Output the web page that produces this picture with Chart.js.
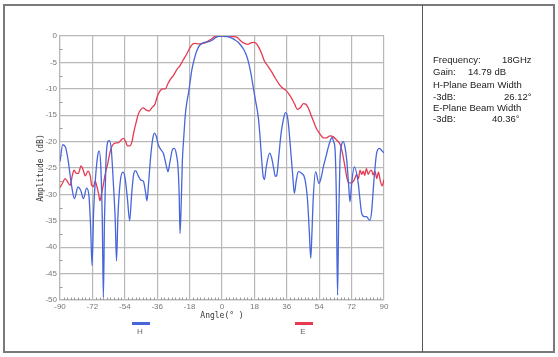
<!DOCTYPE html>
<html><head><meta charset="utf-8">
<script src="https://cdn.jsdelivr.net/npm/chart.js@4.4.0/dist/chart.umd.min.js"></script>
<style>
html,body{margin:0;padding:0;background:#fff;}
#wrap{position:relative;width:558px;height:357px;overflow:hidden;background:#fff;}
#c{position:absolute;left:0;top:0;}
#frame{position:absolute;left:3px;top:4px;width:548px;height:345px;border:2px solid #7a7a7a;}
#divider{position:absolute;left:422px;top:5px;width:1px;height:347px;background:#555;}
.t{position:absolute;font-family:Arial,"Liberation Sans",sans-serif;font-size:9.5px;line-height:12px;color:#222;white-space:nowrap;}
</style></head>
<body>
<div id="wrap">
<canvas id="c" width="558" height="357"></canvas>
<div id="frame"></div>
<div id="divider"></div>
<div class="t" style="left:433px;top:54px">Frequency:</div>
<div class="t" style="left:502px;top:54px">18GHz</div>
<div class="t" style="left:433px;top:66px">Gain:</div>
<div class="t" style="left:468px;top:66px">14.79 dB</div>
<div class="t" style="left:433px;top:79px">H-Plane Beam Width</div>
<div class="t" style="left:433px;top:91px">-3dB:</div>
<div class="t" style="left:504px;top:91px">26.12°</div>
<div class="t" style="left:433px;top:102px">E-Plane Beam Width</div>
<div class="t" style="left:433px;top:113px">-3dB:</div>
<div class="t" style="left:492px;top:113px">40.36°</div>
</div>
<script>
// ---- data ----
const hAngles = [-90,-88.5,-87,-85.5,-83.5,-82,-80,-78.5,-77,-75.2,-74,-73,-72.2,-71.3,-70.3,-69,-68.2,-67.3,-66.5,-65.9,-65.3,-64.5,-63.4,-62.6,-61.5,-60.5,-59.3,-58.6,-57.8,-56.5,-55,-53.8,-52.5,-51.3,-50.2,-49,-48,-46.5,-45,-43.7,-42.5,-41.7,-40.8,-39.8,-38.5,-37.5,-36.5,-35.5,-34,-32.5,-31,-30,-29,-27.5,-26.5,-25.3,-24.4,-23.8,-23.3,-22.6,-22,-21.3,-20.4,-19.5,-18.7,-17.8,-16.8,-15.5,-14,-12.5,-10.5,-8,-6,-4,-2.5,0,2,4,5.5,7.5,9,10.5,12,13.5,14.6,16,17.4,18.5,20.2,21,22,22.9,23.6,24.5,26.5,27.5,28.7,29.6,30.4,31.5,32.8,34,35.2,36.2,37,38,39.2,40.2,41.2,42.4,44.2,46,47.5,48.5,49.3,50,50.7,52,53.9,55.3,56.3,58,59.1,60.5,61.2,62,62.8,63.5,64.2,64.8,65.5,66.5,67.4,68.3,69.3,70.3,71.1,72,73.5,75.7,76.5,77.6,79,80.4,81.2,82.2,83.2,84,85,85.9,87.5,89,90];
const hValues = [-23.8,-20.6,-21,-23.5,-28.5,-30.8,-28.6,-29.2,-30.8,-28.8,-30,-36,-43.5,-33,-27,-22.5,-21.8,-25,-35,-49.5,-35,-24,-20,-19.8,-21.5,-27,-35,-42.6,-34,-27.5,-25.8,-27,-31,-35,-30,-26,-25.5,-26.5,-27.3,-27.5,-29.5,-31.2,-28,-23.5,-19.5,-18.4,-19,-20.5,-21.5,-22.3,-24.5,-25.7,-24,-21.5,-21.3,-22.5,-25,-30,-37.4,-31,-23.5,-19.5,-15,-12.5,-11,-8.9,-6.5,-4.5,-2.8,-1.8,-1.3,-1.1,-0.9,-0.4,-0.1,0,-0.1,-0.2,-0.4,-0.8,-1.2,-1.8,-2.5,-3.6,-4.8,-7,-9.8,-12,-15.5,-18.5,-23.3,-26.7,-27.2,-25,-22.2,-23,-25,-26.6,-26.4,-23,-18.5,-16,-14.5,-15,-17,-21,-26,-29.8,-27.5,-25.7,-26,-27,-31,-37,-42.1,-37,-30.7,-25.7,-27.9,-26.5,-24.8,-22.5,-21,-19.5,-19.2,-20,-21.5,-30,-49.1,-35,-24,-20.5,-20,-21,-23.5,-28,-31.4,-28,-24.8,-27.9,-30.5,-33.6,-34.2,-34.2,-34.6,-34.9,-33,-29.2,-25,-22.2,-21.3,-21.8,-22.1];
const eAngles = [-90,-88.5,-87.2,-86,-84.4,-83.2,-82.2,-81,-79.8,-78.3,-77,-76,-74.5,-73.2,-72.4,-71.3,-70.5,-69.5,-68.5,-67.8,-67,-66,-64.8,-63.5,-62.2,-61,-59.5,-57.5,-56.3,-54.8,-53.5,-52.5,-51.2,-50,-49,-47.8,-46.5,-45,-43.7,-42.3,-40.5,-39,-37.2,-36,-34.4,-33,-31.5,-30,-28.5,-27,-25.2,-23.3,-21.5,-19.6,-17.8,-16.5,-15,-13,-11,-9.5,-8,-6,-4,-2,0,2,4,6,8.2,9.5,11,12.5,14.5,16,17.5,19,20.5,22,23.5,25.5,27.6,29.5,31.5,33.5,35.5,37,38.7,40.5,41.8,43.5,45.2,46.5,48,49.5,51,52.6,54.5,56.3,58,60,61.9,63.7,65.6,66.8,68.3,69.5,70.5,72,73,74,74.8,75.8,76.7,77.6,78.5,79.3,80.2,81.2,82,83,84,85,86,86.9,88,89,90];
const eValues = [-28.7,-27.8,-27,-27.5,-28.3,-26.5,-25.4,-26,-26,-24.6,-25.5,-26.5,-25.6,-26.5,-28.3,-28.5,-27.5,-28.5,-30,-31.2,-30,-28.3,-26,-24.2,-22,-20.8,-20.3,-20.2,-19.8,-19.4,-20,-20.8,-20.8,-20,-18.2,-16.5,-14.8,-13.9,-13.6,-14,-14.2,-13.6,-12.9,-11.5,-10.4,-10,-10,-9,-8.1,-7.5,-6.4,-5.6,-4.5,-3.4,-2.2,-1.6,-1.4,-1.5,-1.4,-1.3,-1,-0.6,-0.1,0,0,0,0,-0.1,-0.2,-0.6,-1.1,-1.4,-1.6,-1.3,-1.2,-1.4,-2.2,-3.3,-4.7,-5.7,-6.8,-7.9,-9,-9.8,-10.3,-10.9,-11.8,-13,-13.9,-13.6,-12.8,-12.9,-13.7,-15,-16.3,-17.6,-18.6,-19.3,-19.3,-18.9,-19.1,-19.7,-20.5,-22,-24.7,-27,-27.8,-27.8,-27.5,-26.8,-26.2,-27,-25.4,-26.2,-25.6,-26.4,-25.1,-26.2,-25.7,-25.4,-26.3,-25.6,-27,-25.8,-27.5,-28.4,-27.2];
const xTickValues = [-90,-72,-54,-36,-18,0,18,36,54,72,90];
const yTickValues = [0,-5,-10,-15,-20,-25,-30,-35,-40,-45,-50];
const seriesNames = ['H','E'];
const seriesColors = ['#4766d9','#e53a52'];

const toPts = (xs, ys) => xs.map((x, i) => ({x: x, y: ys[i]}));

const extras = {
  id: 'extras',
  afterDraw(chart) {
    const ctx = chart.ctx, ca = chart.chartArea;
    const xs = chart.scales.x, ys = chart.scales.y;
    ctx.save();
    ctx.strokeStyle = '#9a9a9a';
    ctx.lineWidth = 1;
    // y minor ticks
    for (let v = -2.5; v > -50; v -= 5) {
      const y = Math.round(ys.getPixelForValue(v)) + 0.5;
      ctx.beginPath(); ctx.moveTo(ca.left, y); ctx.lineTo(ca.left + 2.5, y); ctx.stroke();
    }
    // x minor ticks
    for (let a = -88; a < 90; a += 2) {
      if (xTickValues.includes(a)) continue;
      const x = Math.round(xs.getPixelForValue(a)) + 0.5;
      ctx.beginPath(); ctx.moveTo(x, ca.bottom - 2.5); ctx.lineTo(x, ca.bottom); ctx.stroke();
    }
    // legend
    const legendX = [141, 304];
    ctx.font = '8px Arial, "Liberation Sans", sans-serif';
    ctx.textAlign = 'center';
    ctx.textBaseline = 'middle';
    chart.data.datasets.forEach((ds, i) => {
      const cx = legendX[i];
      ctx.strokeStyle = ds.borderColor;
      ctx.lineWidth = 3;
      ctx.beginPath(); ctx.moveTo(cx - 9, 323.5); ctx.lineTo(cx + 9, 323.5); ctx.stroke();
      ctx.fillStyle = '#666';
      ctx.fillText(ds.label, cx - 1, 332);
    });
    ctx.restore();
  }
};

new Chart(document.getElementById('c'), {
  type: 'line',
  data: {
    datasets: [
      {label: seriesNames[0], data: toPts(hAngles, hValues), borderColor: seriesColors[0], borderWidth: 1.3, pointRadius: 0, cubicInterpolationMode: 'monotone', fill: false},
      {label: seriesNames[1], data: toPts(eAngles, eValues), borderColor: seriesColors[1], borderWidth: 1.3, pointRadius: 0, cubicInterpolationMode: 'monotone', fill: false}
    ]
  },
  options: {
    responsive: false,
    animation: false,
    devicePixelRatio: 1,
    layout: {padding: {left: 0, top: 36, right: 174, bottom: 0}},
    plugins: {legend: {display: false}, tooltip: {enabled: false}},
    scales: {
      x: {
        type: 'linear', min: -90, max: 90,
        afterFit: s => { s.height = 57; },
        afterBuildTicks: s => { s.ticks = xTickValues.map(v => ({value: v})); },
        ticks: {padding: 2, color: '#777', font: {size: 8, family: 'Arial, "Liberation Sans", sans-serif'}, maxRotation: 0, autoSkip: false},
        grid: {color: '#b8b8b8', lineWidth: 1.2, drawTicks: false},
        border: {color: '#b8b8b8', width: 1.2},
        title: {display: true, text: 'Angle(° )', color: '#333', font: {size: 8, family: '"DejaVu Sans Mono", monospace'}, padding: {top: 0, bottom: 36}}
      },
      y: {
        type: 'linear', min: -50, max: 0,
        afterFit: s => { s.width = 60; },
        afterBuildTicks: s => { s.ticks = yTickValues.slice().reverse().map(v => ({value: v})); },
        ticks: {padding: 3, color: '#777', font: {size: 8, family: 'Arial, "Liberation Sans", sans-serif'}, autoSkip: false},
        grid: {color: '#b8b8b8', lineWidth: 1.2, drawTicks: false},
        border: {color: '#b8b8b8', width: 1.2},
        title: {display: true, text: 'Amplitude (dB)', color: '#333', font: {size: 8, family: '"DejaVu Sans Mono", monospace'}, padding: {top: 36, bottom: 0}}
      }
    }
  },
  plugins: [extras]
});
</script>
</body></html>
